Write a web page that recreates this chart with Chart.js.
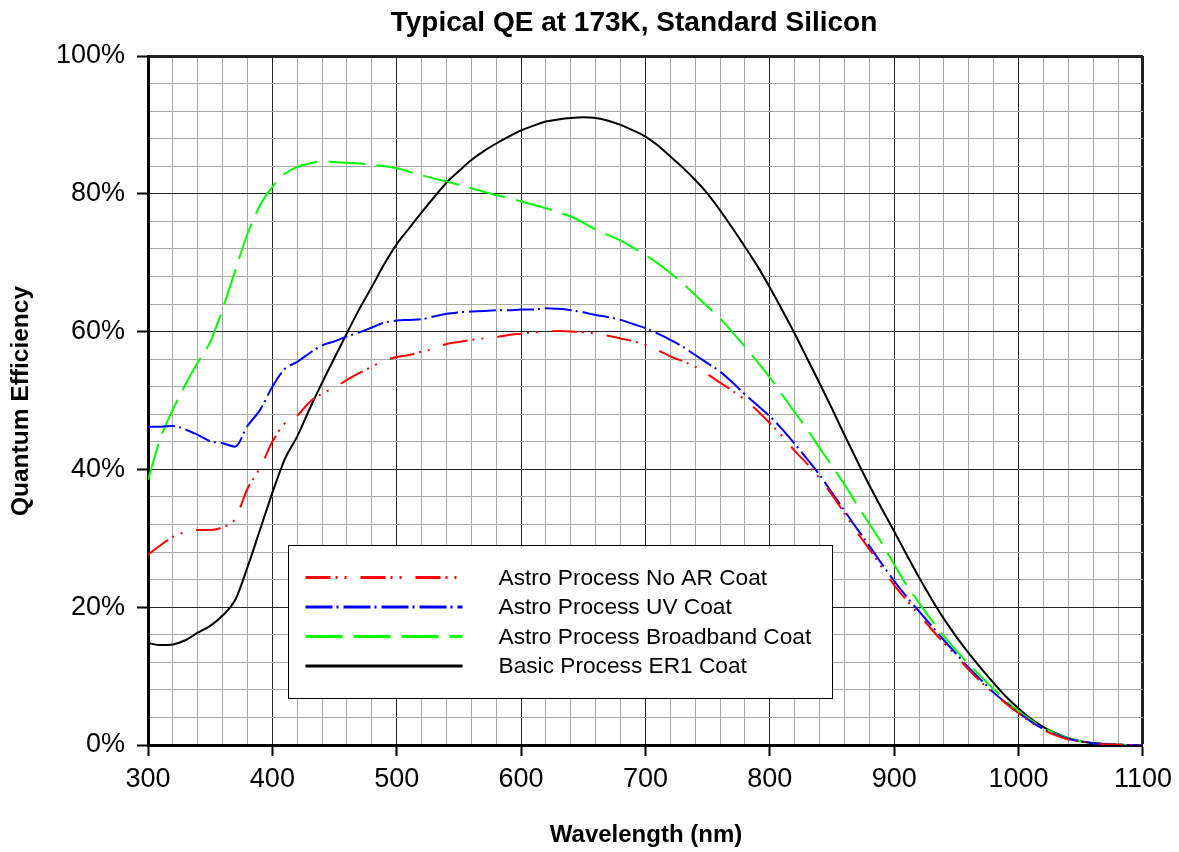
<!DOCTYPE html>
<html>
<head>
<meta charset="utf-8">
<script src="https://cdn.jsdelivr.net/npm/chart.js@4.4.1/dist/chart.umd.min.js"></script>
<style>
  html, body { margin: 0; padding: 0; background: #fff; }
  #wrap { width: 1179px; height: 852px; }
</style>
</head>
<body>
<div id="wrap"><canvas id="grafico"></canvas></div>
<script>
// ----- Dados -----
const titulo = 'Typical QE at 173K, Standard Silicon';
const tituloX = 'Wavelength (nm)';
const tituloY = 'Quantum Efficiency';

const comprimentos = [
  300, 310, 320, 330, 340, 350, 360, 370, 380, 390,
  400, 410, 420, 430, 440, 450, 460, 470, 480, 490,
  500, 510, 520, 530, 540, 550, 560, 570, 580, 590,
  600, 610, 620, 630, 640, 650, 660, 670, 680, 690,
  700, 710, 720, 730, 740, 750, 760, 770, 780, 790,
  800, 810, 820, 830, 840, 850, 860, 870, 880, 890,
  900, 910, 920, 930, 940, 950, 960, 970, 980, 990,
  1000, 1010, 1020, 1030, 1040, 1050, 1060, 1070, 1080, 1090,
  1100
];

const nomesSeries = [
  'Astro Process No AR Coat',
  'Astro Process UV Coat',
  'Astro Process Broadband Coat',
  'Basic Process ER1 Coat'
];

const qeSemAR = [
  27.6, 29.0, 30.2, 30.9, 31.2, 31.2, 31.6, 32.8, 37.2, 40.2,
  44.0, 46.7, 47.8, 49.8, 51.0, 51.9, 53.0, 54.0, 54.9, 55.8,
  56.3, 56.6, 57.1, 57.5, 58.2, 58.5, 58.8, 59.0, 59.2, 59.5,
  59.7, 59.9, 60.0, 60.1, 60.0, 59.9, 59.7, 59.4, 59.0, 58.6,
  58.1, 57.3, 56.4, 55.7, 54.9, 53.8, 52.6, 51.4, 50.1, 48.5,
  46.7, 44.8, 42.7, 40.8, 38.7, 36.3, 33.6, 30.9, 28.4, 25.8,
  23.2, 21.0, 18.9, 16.8, 14.8, 12.9, 10.9, 9.1, 7.5, 6.0,
  4.6, 3.3, 2.2, 1.4, 0.8, 0.5, 0.25, 0.1, 0.05, 0,
  0
];

const qeUV = [
  46.2, 46.2, 46.3, 45.8, 45.0, 44.1, 43.8, 43.3, 46.3, 48.6,
  52.0, 54.6, 55.6, 56.9, 58.0, 58.6, 59.3, 59.9, 60.6, 61.3,
  61.6, 61.7, 61.8, 62.2, 62.6, 62.8, 62.9, 63.0, 63.1, 63.1,
  63.2, 63.2, 63.4, 63.3, 63.1, 62.8, 62.4, 62.1, 61.7, 61.1,
  60.5, 59.7, 58.8, 57.8, 56.6, 55.4, 54.2, 52.6, 50.9, 49.3,
  47.7, 45.8, 43.7, 41.5, 39.2, 36.6, 34.0, 31.4, 28.9, 26.3,
  23.8, 21.5, 19.4, 17.3, 15.2, 13.2, 11.2, 9.4, 7.6, 6.1,
  4.7, 3.4, 2.3, 1.5, 0.9, 0.5, 0.25, 0.1, 0.05, 0,
  0
];

const qeBroadband = [
  38.5, 44.5, 48.7, 52.3, 55.5, 58.5, 63.3, 68.8, 74.2, 78.3,
  81.0, 82.9, 83.9, 84.4, 84.7, 84.6, 84.5, 84.4, 84.2, 84.0,
  83.7, 83.2, 82.7, 82.2, 81.8, 81.3, 80.8, 80.3, 79.8, 79.4,
  78.9, 78.4, 77.9, 77.3, 76.7, 75.8, 74.8, 74.0, 73.2, 72.2,
  71.1, 69.9, 68.5, 67.0, 65.3, 63.6, 61.9, 59.9, 57.8, 55.6,
  53.3, 50.8, 48.3, 45.8, 43.1, 40.5, 37.8, 34.9, 32.1, 29.3,
  26.2, 23.2, 20.6, 18.1, 15.8, 13.7, 11.7, 9.9, 8.1, 6.4,
  4.9, 3.6, 2.5, 1.6, 1.0, 0.55, 0.28, 0.12, 0.05, 0,
  0
];

const qeER1 = [
  14.8, 14.5, 14.6, 15.2, 16.3, 17.3, 18.8, 21.0, 25.8, 31.2,
  36.6, 41.5, 44.8, 48.8, 52.6, 56.2, 59.8, 63.3, 66.5, 69.8,
  72.7, 75.0, 77.3, 79.5, 81.6, 83.3, 84.9, 86.2, 87.3, 88.3,
  89.2, 89.9, 90.5, 90.8, 91.0, 91.1, 91.0, 90.6, 90.0, 89.2,
  88.3, 87.0, 85.4, 83.8, 82.0, 80.0, 77.6, 75.0, 72.3, 69.5,
  66.4, 63.1, 59.7, 56.1, 52.5, 48.8, 45.0, 41.3, 37.7, 34.3,
  31.0, 27.6, 24.3, 21.2, 18.3, 15.7, 13.3, 11.1, 9.0, 7.0,
  5.3, 3.8, 2.6, 1.7, 1.0, 0.55, 0.28, 0.12, 0.05, 0,
  0
];

const fonte = '"Liberation Sans", Arial, sans-serif';

const montarPontos = valores => comprimentos.map((x, i) => ({ x: x, y: valores[i] }));

// ----- Título, eixos e legenda desenhados à mão -----
const textosExtras = {
  id: 'textosExtras',
  afterDraw(chart) {
    const { ctx, chartArea } = chart;
    ctx.save();
    ctx.fillStyle = '#000';
    ctx.textAlign = 'center';
    ctx.textBaseline = 'middle';

    ctx.font = 'bold 28px ' + fonte;
    ctx.fillText(titulo, 634, 23);

    ctx.font = 'bold 24px ' + fonte;
    ctx.fillText(tituloX, 646, 835);

    ctx.translate(21, 401);
    ctx.rotate(-Math.PI / 2);
    ctx.font = 'bold 24.5px ' + fonte;
    ctx.fillText(tituloY, 0, 0);
    ctx.setTransform(1, 0, 0, 1, 0, 0);

    // legenda
    const caixa = { x: chartArea.left + 140.5, y: chartArea.top + 489.5, w: 544, h: 153 };
    ctx.fillStyle = '#fff';
    ctx.fillRect(caixa.x, caixa.y, caixa.w, caixa.h);
    ctx.strokeStyle = '#000';
    ctx.lineWidth = 1;
    ctx.strokeRect(caixa.x, caixa.y, caixa.w, caixa.h);

    ctx.textAlign = 'left';
    ctx.font = '22.7px ' + fonte;
    chart.data.datasets.forEach((ds, i) => {
      const y = caixa.y + 32 + i * 29.5;
      ctx.beginPath();
      ctx.setLineDash(ds.borderDash || []);
      ctx.strokeStyle = ds.borderColor;
      ctx.lineWidth = 3;
      ctx.moveTo(caixa.x + 17, y);
      ctx.lineTo(caixa.x + 174, y);
      ctx.stroke();
      ctx.setLineDash([]);
      ctx.fillStyle = '#000';
      ctx.fillText(ds.label, caixa.x + 210, y + 1);
    });
    ctx.restore();
  }
};

const corGrade = (c, passo) => (c.tick && c.tick.value % passo === 0 ? '#222' : '#a8a8a8');
const corTraco = (c, passo) => (c.tick && c.tick.value % passo === 0 ? '#000' : 'rgba(0,0,0,0)');

const ctxGrafico = document.getElementById('grafico').getContext('2d');

new Chart(ctxGrafico, {
  type: 'line',
  data: {
    datasets: [
      {
        label: nomesSeries[0],
        data: montarPontos(qeSemAR),
        borderColor: '#ff0000',
        borderDash: [25, 5, 2, 7, 2, 14],
        borderWidth: 2
      },
      {
        label: nomesSeries[1],
        data: montarPontos(qeUV),
        borderColor: '#0000ff',
        borderDash: [27, 4, 2, 5],
        borderWidth: 2
      },
      {
        label: nomesSeries[2],
        data: montarPontos(qeBroadband),
        borderColor: '#00ff00',
        borderDash: [37, 11],
        borderWidth: 2
      },
      {
        label: nomesSeries[3],
        data: montarPontos(qeER1),
        borderColor: '#000000',
        borderWidth: 2
      }
    ]
  },
  options: {
    responsive: true,
    maintainAspectRatio: false,
    animation: false,
    layout: { padding: { top: 56, right: 34, left: 0, bottom: 0 } },
    elements: {
      point: { radius: 0 },
      line: { cubicInterpolationMode: 'monotone', fill: false }
    },
    plugins: {
      legend: { display: false },
      title: { display: false },
      tooltip: { enabled: false }
    },
    scales: {
      x: {
        type: 'linear',
        min: 300,
        max: 1100,
        afterFit: scale => { scale.height = 107; },
        border: { color: '#000', width: 3 },
        grid: {
          color: c => corGrade(c, 100),
          lineWidth: c => (c.tick && c.tick.value === 1100 ? 3 : 1),
          tickColor: c => corTraco(c, 100),
          tickLength: 11,
          tickWidth: 2
        },
        ticks: {
          stepSize: 20,
          autoSkip: false,
          maxRotation: 0,
          padding: 7,
          color: '#000',
          font: { family: fonte, size: 27 },
          callback: v => (v % 100 === 0 ? String(v) : '')
        }
      },
      y: {
        min: 0,
        max: 100,
        afterFit: scale => { scale.width = 148; },
        border: { color: '#000', width: 3 },
        grid: {
          color: c => corGrade(c, 20),
          lineWidth: c => (c.tick && c.tick.value === 100 ? 3 : 1),
          tickColor: c => corTraco(c, 20),
          tickLength: 11,
          tickWidth: 2
        },
        ticks: {
          stepSize: 4,
          autoSkip: false,
          padding: 12,
          color: '#000',
          font: { family: fonte, size: 27 },
          callback: v => (v % 20 === 0 ? v + '%' : '')
        }
      }
    }
  },
  plugins: [textosExtras]
});
</script>
</body>
</html>
